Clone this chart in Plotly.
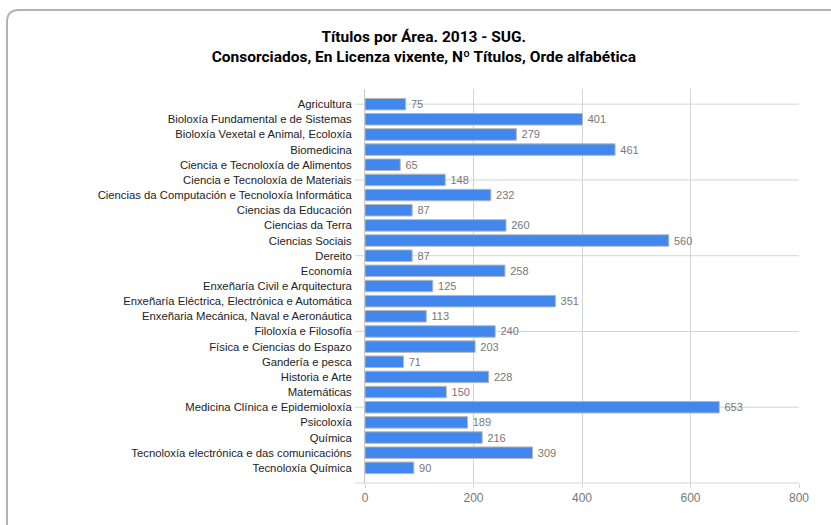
import plotly.graph_objects as go

categories = [
    "Agricultura",
    "Bioloxía Fundamental e de Sistemas",
    "Bioloxía Vexetal e Animal, Ecoloxía",
    "Biomedicina",
    "Ciencia e Tecnoloxía de Alimentos",
    "Ciencia e Tecnoloxía de Materiais",
    "Ciencias da Computación e Tecnoloxía Informática",
    "Ciencias da Educación",
    "Ciencias da Terra",
    "Ciencias Sociais",
    "Dereito",
    "Economía",
    "Enxeñaría Civil e Arquitectura",
    "Enxeñaría Eléctrica, Electrónica e Automática",
    "Enxeñaria Mecánica, Naval e Aeronáutica",
    "Filoloxía e Filosofía",
    "Física e Ciencias do Espazo",
    "Gandería e pesca",
    "Historia e Arte",
    "Matemáticas",
    "Medicina Clínica e Epidemioloxía",
    "Psicoloxía",
    "Química",
    "Tecnoloxía electrónica e das comunicacións",
    "Tecnoloxía Química",
]
titulos = [75, 401, 279, 461, 65, 148, 232, 87, 260, 560, 87, 258, 125, 351, 113,
           240, 203, 71, 228, 150, 653, 189, 216, 309, 90]
x_ticks = [0, 200, 400, 600, 800]

W, H = 831, 525
ML, MR, MT, MB = 365, 32, 89, 42
PW, PH = W - ML - MR, H - MT - MB


def pxx(x):
    return (x - ML) / PW


def pxy(y):
    return (H - MB - y) / PH


GRID = "#d4d4d4"
LABEL_FONT = "Liberation Sans, Arial, sans-serif"

fig = go.Figure(go.Bar(
    x=titulos, y=categories, orientation="h",
    marker=dict(color="#4187ee", line=dict(color="#b8b8b8", width=1)),
    text=titulos, texttemplate="\u2009%{x}", textposition="outside",
    textfont=dict(family=LABEL_FONT, size=11, color="#777777"),
    constraintext="none", cliponaxis=False, width=0.76,
    hoverinfo="skip",
))

shapes = []
# horizontal grid lines every 5 categories (with small left tick)
for i in range(0, len(categories), 5):
    shapes.append(dict(type="line", xref="paper", yref="y",
                       x0=pxx(355), x1=1, y0=categories[i], y1=categories[i],
                       line=dict(color=GRID, width=1), layer="below"))
shapes.append(dict(type="line", xref="paper", yref="paper",
                   x0=pxx(355), x1=1, y0=0, y1=0,
                   line=dict(color=GRID, width=1), layer="below"))
# card border
r = 12
x0, y0, y_bot, x1 = 7, 10, 540, 850
path = (f"M {pxx(x0)},{pxy(y_bot)} L {pxx(x0)},{pxy(y0 + r)} "
        f"Q {pxx(x0)},{pxy(y0)} {pxx(x0 + r)},{pxy(y0)} L {pxx(x1)},{pxy(y0)}")
shapes.append(dict(type="path", xref="paper", yref="paper", path=path,
                   line=dict(color="#b3b3b3", width=2), layer="below"))

fig.update_layout(
    width=W, height=H,
    margin=dict(l=ML, r=MR, t=MT, b=MB, pad=0),
    paper_bgcolor="white", plot_bgcolor="white",
    showlegend=False,
    bargap=0.24,
    title=dict(
        text="Títulos por Área. 2013 - SUG.<br>Consorciados, En Licenza vixente, Nº Títulos, Orde alfabética",
        x=0.51, xanchor="center", y=1 - 42 / H, yanchor="middle",
        font=dict(family="Roboto, Liberation Sans, sans-serif",
                  size=15.5, color="#000000", weight="bold"),
    ),
    xaxis=dict(range=[0, 800], tickvals=x_ticks, showgrid=True, gridcolor=GRID, gridwidth=1,
               zeroline=False, showline=False, ticks="outside", ticklen=4, tickcolor=GRID,
               tickfont=dict(family=LABEL_FONT, size=12, color="#777777"),
               fixedrange=True),
    yaxis=dict(type="category", categoryorder="array", categoryarray=categories,
               range=[len(categories), -1], showgrid=False, zeroline=False,
               showline=True, linecolor="#c8c8c8", linewidth=1,
               ticks="outside", ticklen=10, tickcolor="rgba(0,0,0,0)",
               tickfont=dict(family=LABEL_FONT, size=11.3, color="#222222"),
               fixedrange=True),
    shapes=shapes,
)

fig.write_html("out.html", config={"displayModeBar": False},
               post_script="document.body.style.margin='0';")
